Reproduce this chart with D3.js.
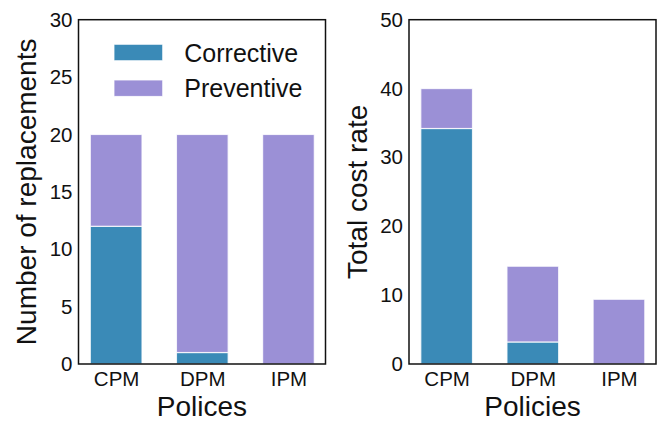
<!DOCTYPE html>
<html>
<head>
<meta charset="utf-8">
<script src="https://cdn.jsdelivr.net/npm/d3@7"></script>
<style>
  body { margin: 0; background: #fff; }
  text { font-family: "Liberation Sans", Arial, sans-serif; fill: #111; }
</style>
</head>
<body>
<script>
// data
var categories = ["CPM", "DPM", "IPM"];
var seriesNames = ["Corrective", "Preventive"];
var replCorrective = [12, 1, 0];
var replPreventive = [8, 19, 20];
var costCorrective = [34.2, 3.2, 0];
var costPreventive = [5.8, 11.0, 9.4];
var replTicks = [0, 5, 10, 15, 20, 25, 30];
var costTicks = [0, 10, 20, 30, 40, 50];

var colors = { Corrective: "#3a8ab7", Preventive: "#9b90d6" };

var outerWidth = 666, outerHeight = 421,
    panelWidth = 247, panelHeight = 344.3, marginTop = 19.7;

var svg = d3.select("body").append("svg").attr("width", outerWidth).attr("height", outerHeight);

function drawPanel(left, corrective, preventive, ymax, ticks, ylabel, xlabel, labelX, withLegend) {
  var g = svg.append("g").attr("transform", "translate(" + left + "," + marginTop + ")");

  var x = d3.scaleLinear().domain([-0.437, 2.43]).range([0, panelWidth]);
  var y = d3.scaleLinear().domain([0, ymax]).range([panelHeight, 0]);
  var barW = 0.6;

  var rows = categories.map(function (c, i) {
    return { cat: c, i: i, Corrective: corrective[i], Preventive: preventive[i] };
  });
  var stacked = d3.stack().keys(seriesNames)(rows);

  stacked.forEach(function (layer) {
    g.append("g").selectAll("rect").data(layer.filter(function (d) { return d[1] - d[0] > 0; }))
      .enter().append("rect")
      .attr("x", function (d) { return x(d.data.i - barW / 2); })
      .attr("width", x(barW) - x(0))
      .attr("y", function (d) { return y(d[1]); })
      .attr("height", function (d) { return y(d[0]) - y(d[1]); })
      .attr("fill", colors[layer.key])
      .attr("stroke", "#fff")
      .attr("stroke-opacity", 0.8)
      .attr("stroke-width", 1.2);
  });

  var yAxis = d3.axisLeft(y).tickValues(ticks).tickSize(0).tickPadding(6);
  var yg = g.append("g").call(yAxis);
  yg.select(".domain").remove();
  yg.selectAll("text").style("font-size", "20.5px").style("font-family", "Liberation Sans, Arial, sans-serif").attr("fill", "#111");

  var xAxis = d3.axisBottom(x).tickValues([0, 1, 2]).tickSize(0).tickPadding(7)
    .tickFormat(function (d) { return categories[d]; });
  var xg = g.append("g").attr("transform", "translate(0," + panelHeight + ")").call(xAxis);
  xg.select(".domain").remove();
  xg.selectAll("text").style("font-size", "20.5px").style("font-family", "Liberation Sans, Arial, sans-serif").attr("fill", "#111");

  // frame
  g.append("rect").attr("width", panelWidth).attr("height", panelHeight)
    .attr("fill", "none").attr("stroke", "#111").attr("stroke-width", 1.5);

  svg.append("text")
    .attr("transform", "translate(" + labelX + "," + (marginTop + panelHeight / 2) + ") rotate(-90)")
    .attr("text-anchor", "middle").style("font-size", "28px").text(ylabel);

  svg.append("text")
    .attr("x", left + panelWidth / 2).attr("y", 416)
    .attr("text-anchor", "middle").style("font-size", "28px").text(xlabel);

  if (withLegend) {
    var lg = svg.append("g");
    seriesNames.forEach(function (s, k) {
      lg.append("rect").attr("x", 114).attr("y", 44.3 + k * 35.7)
        .attr("width", 48.7).attr("height", 16.4).attr("fill", colors[s])
        .attr("stroke", "#fff").attr("stroke-opacity", 0.8).attr("stroke-width", 1);
      lg.append("text").attr("x", 184.3).attr("y", 61.5 + k * 35.7)
        .style("font-size", "25px").text(s);
    });
  }
}

drawPanel(78.5, replCorrective, replPreventive, 30, replTicks, "Number of replacements", "Polices", 36, true);
drawPanel(409, costCorrective, costPreventive, 50, costTicks, "Total cost rate", "Policies", 366.5, false);
</script>
</body>
</html>
